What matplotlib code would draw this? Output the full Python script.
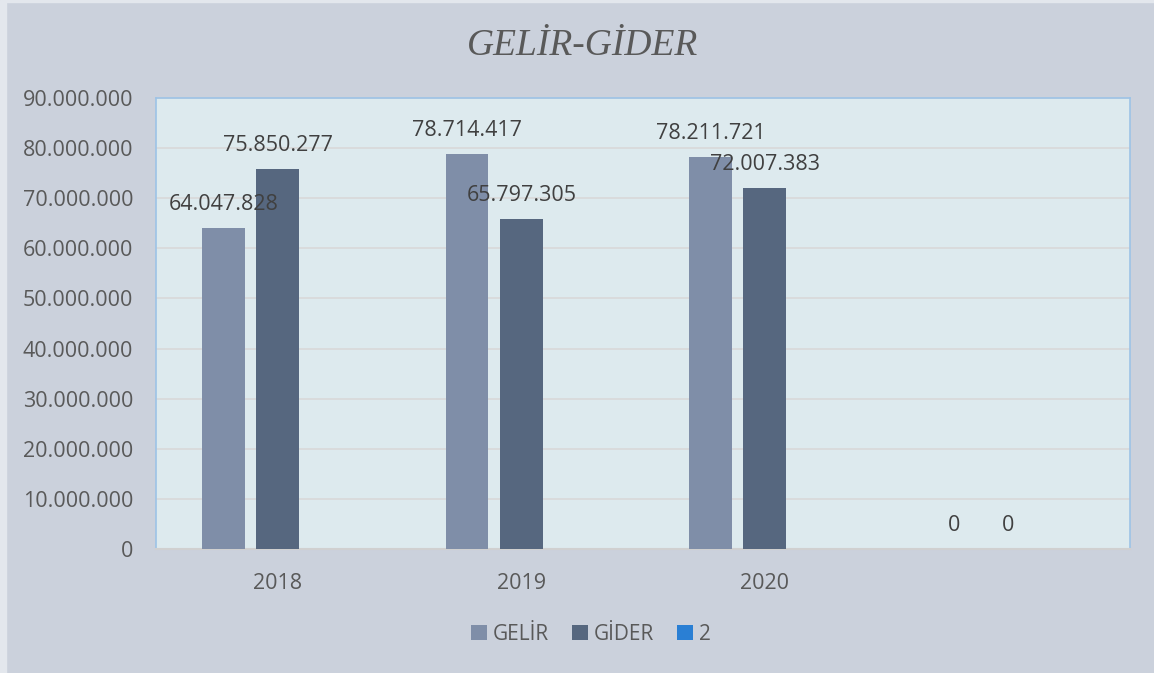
import matplotlib
matplotlib.use('Agg')
import matplotlib.pyplot as plt
from matplotlib.patches import Rectangle
import numpy as np

categories = ['2018', '2019', '2020', '']
gelir = [64047828, 78714417, 78211721, 0]
gider = [75850277, 65797305, 72007383, 0]
seri2 = [None, None, None, None]
series_names = ['GELİR', 'GİDER', '2']
colors = ['#7f8ea8', '#56677f', '#2a7fd4']

def fmt(v):
    return '{:,}'.format(int(v)).replace(',', '.')

plt.rcParams['font.family'] = ['Open Sans', 'DejaVu Sans']

fig = plt.figure(figsize=(11.54, 6.73), dpi=100)
fig.patch.set_facecolor('#cbd1dc')
# light frame strip at left/top
fig.patches.append(Rectangle((0, 0), 6 / 1154, 1, transform=fig.transFigure, color='#e3e7ed', zorder=0))
fig.patches.append(Rectangle((0, 1 - 2 / 673), 1, 2 / 673, transform=fig.transFigure, color='#e3e7ed', zorder=0))

ax = fig.add_axes([156 / 1154, 1 - 549.3 / 673, 974 / 1154, 451.6 / 673])
ax.set_facecolor('#ddeaee')

x = np.arange(len(categories))
step = 54.3 / 243.5
width = 42.7 / 243.5

b1 = ax.bar(x - step, gelir, width, color=colors[0], label=series_names[0], zorder=3)
b2 = ax.bar(x, gider, width, color=colors[1], label=series_names[1], zorder=3)
vals2 = [0 if v is None else v for v in seri2]
b3 = ax.bar(x + step, vals2, width, color=colors[2], label=series_names[2], zorder=3)

for xs, vals in [(x - step, gelir), (x, gider)]:
    for xi, v in zip(xs, vals):
        ax.annotate(fmt(v), (xi, v), xytext=(0, 9.5), textcoords='offset points',
                    ha='center', va='bottom', fontsize=15.5, color='#404040', zorder=5)

ax.set_xlim(-0.5, len(categories) - 0.5)
ax.set_ylim(0, 90000000)
ax.set_yticks(np.arange(0, 90000001, 10000000))
ax.set_yticklabels([fmt(v) for v in np.arange(0, 90000001, 10000000)])
ax.set_xticks(x)
ax.set_xticklabels(categories)
ax.tick_params(axis='both', length=0, labelsize=15.5, colors='#595959')
ax.tick_params(axis='y', pad=16.5)
ax.tick_params(axis='x', pad=17)
ax.yaxis.grid(True, color='#d9d9d9', linewidth=1.2, zorder=0)
ax.set_axisbelow(True)

for s in ['left', 'top', 'right']:
    ax.spines[s].set_color('#9dc3e6')
    ax.spines[s].set_linewidth(1.2)
ax.spines['bottom'].set_color('#d0d0d0')
ax.spines['bottom'].set_linewidth(1.5)

fig.text(583 / 1154, 1 - 46 / 673, 'GELİR-GİDER', ha='center', va='center',
         fontsize=27, style='italic', family='Liberation Serif', color='#595959')

leg = fig.legend(handles=[b1, b2, b3], loc='center', bbox_to_anchor=(591 / 1154, 1 - 634 / 673),
                 ncol=3, frameon=False, fontsize=15, handlelength=0.75, handleheight=0.75,
                 handletextpad=0.3, columnspacing=1.1)
for t in leg.get_texts():
    t.set_color('#595959')

fig.savefig('out.png', dpi=100, facecolor=fig.get_facecolor())
